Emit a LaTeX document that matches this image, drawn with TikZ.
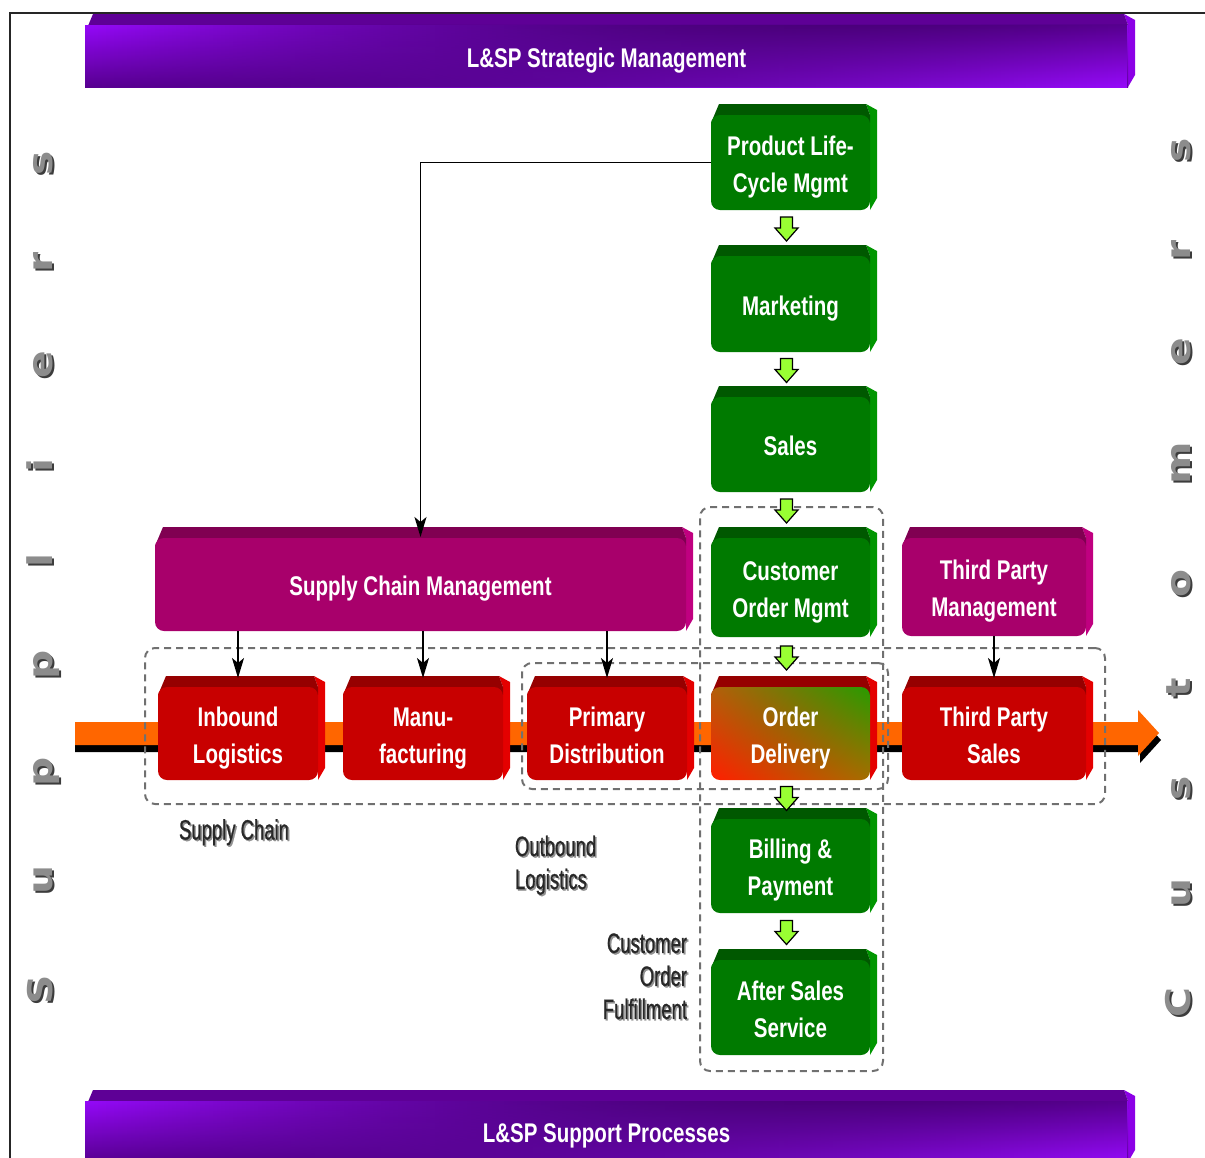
\documentclass[tikz,border=0pt]{standalone}
\usepackage{fontspec}
\usetikzlibrary{calc,arrows.meta,shadings,fadings}

\newfontfamily\boxfont[FakeStretch=0.76]{Liberation Sans}
\newfontfamily\notefont[FakeStretch=0.66, FakeBold=0.8]{Liberation Sans}
\newfontfamily\sidefont[FakeStretch=1.2]{DejaVu Sans}

\definecolor{gfront}{RGB}{0,122,0}
\definecolor{gtop}{RGB}{0,88,0}
\definecolor{gside}{RGB}{0,150,0}
\definecolor{rfront}{RGB}{200,0,0}
\definecolor{rtop}{RGB}{150,0,0}
\definecolor{rside}{RGB}{228,0,0}
\definecolor{mfront}{RGB}{168,0,107}
\definecolor{mtop}{RGB}{128,0,82}
\definecolor{mside}{RGB}{192,0,128}
\definecolor{pbright}{RGB}{150,10,250}
\definecolor{pdark}{RGB}{88,0,145}
\definecolor{ptop}{RGB}{94,0,150}
\definecolor{pside}{RGB}{140,0,230}
\definecolor{arroworange}{RGB}{255,102,0}
\definecolor{limegreen}{RGB}{153,255,51}
\definecolor{dashgray}{RGB}{112,112,112}
\definecolor{lettergray}{RGB}{140,140,140}
\definecolor{lettershade}{RGB}{60,60,60}
\definecolor{notetext}{RGB}{40,40,40}
\definecolor{noteshade}{RGB}{145,145,145}

\pgfdeclarelayer{background}
\pgfdeclarelayer{faces}
\pgfsetlayers{background,faces,main}

\tikzfading[name=fade to right, left color=transparent!100, right color=transparent!0]

% text with a drop shadow: #2 shadow colour, #3 kern, #4 raise
\newcommand\shadowed[4]{\makebox[0pt][l]{\kern#3\raisebox{#4}{\color{#2}#1}}#1}
\newcommand\nsh[1]{\shadowed{#1}{noteshade}{1.5pt}{-1.5pt}}
\newcommand\lsh[1]{\shadowed{#1}{lettershade}{-2pt}{-2pt}}
% centred lines of a box label, set a little below the box centre
\newcommand\lbl[1]{\raisebox{-4pt}[\height][\depth]{\begin{tabular}{@{}c@{}}#1\end{tabular}}}

% top and right faces of an extruded box, drawn behind its front node
\newcommand\bevel[3]{%
  \fill[#3] ($(#1.north east)+(-4,-11)$) -- ($(#1.north east)+(7,-5)$)
    -- ($(#1.south east)+(7,-12)$) -- (#1.south east) -- (#1.north east) -- cycle;
  \fill[#2] ($(#1.north west)+(0,8)$) -- ($(#1.north west)+(8,-11)$)
    -- ($(#1.north east)+(-4,-11)$) -- (#1.north east)
    -- ($(#1.north east)+(0,8)$) -- cycle;}

\tikzset{
  every node/.style={inner sep=0pt, outer sep=0pt},
  boxlabel/.style={text=white, align=center, font=\boxfont\bfseries\fontsize{27}{37}\selectfont},
  greenbox/.style={boxlabel, fill=gfront, rounded corners=9, minimum width=159},
  redbox/.style={boxlabel, fill=rfront, rounded corners=9, minimum height=93},
  magentabox/.style={boxlabel, fill=mfront, rounded corners=9},
  banner/.style={boxlabel, minimum width=1043},
  groupbox/.style={draw=dashgray, line width=2pt, dash pattern=on 7pt off 5pt, rounded corners=10},
  conn/.style={draw=black, line width=1.5pt, -{Stealth[length=20pt, width=12pt, inset=5pt]}},
  note/.style={text=notetext, font=\notefont\fontsize{28}{33}\selectfont},
  sideletter/.style={text=lettergray, font=\sidefont\bfseries\fontsize{34}{40}\selectfont, rotate=90, anchor=base},
  downarrow/.pic={\draw[fill=limegreen, line width=1.2pt, line join=miter]
    (-6,-12) -- (6,-12) -- (6,-1) -- (11.5,-1) -- (0,12) -- (-11.5,-1) -- (-6,-1) -- cycle;},
}

\begin{document}
\begin{tikzpicture}[x=1pt, y=-1pt]
\useasboundingbox (0,0) rectangle (1205,1157);
\clip (0,0) rectangle (1205,1157);

% frame
\draw[line width=2pt, black!85] (10,1170) -- (10,13) -- (1220,13);

% banners
\node[banner, minimum height=62] (strategic) at (606.5,56) {\lbl{L\&SP Strategic Management}};
\node[banner, minimum height=61] (support) at (606.5,1131.5) {\lbl{L\&SP Support Processes}};

% process boxes: green column
\node[greenbox, minimum height=95] (plm)   at (790.5,162.5) {\lbl{Product Life-\\Cycle Mgmt}};
\node[greenbox, minimum height=96] (mkt)   at (790.5,304)   {\lbl{Marketing}};
\node[greenbox, minimum height=95] (sales) at (790.5,444.5) {\lbl{Sales}};
\node[greenbox, minimum height=99] (com)   at (790.5,587.5) {\lbl{Customer\\Order Mgmt}};
\node[boxlabel, shade, rounded corners=9, minimum width=159, minimum height=93,
      upper left={rgb,255:red,180;green,95;blue,10},
      upper right={rgb,255:red,40;green,155;blue,0},
      lower left={rgb,255:red,255;green,30;blue,0},
      lower right={rgb,255:red,165;green,110;blue,0}] (od) at (790.5,733.5) {\lbl{Order\\Delivery}};
\node[greenbox, minimum height=94] (bill)  at (790.5,866)   {\lbl{Billing \&\\Payment}};
\node[greenbox, minimum height=95] (after) at (790.5,1007.5) {\lbl{After Sales\\Service}};

% process boxes: red row
\node[redbox, minimum width=160] (ib)  at (238,733.5) {\lbl{Inbound\\Logistics}};
\node[redbox, minimum width=160] (mf)  at (423,733.5) {\lbl{Manu-\\facturing}};
\node[redbox, minimum width=160] (pd)  at (607,733.5) {\lbl{Primary\\Distribution}};
\node[redbox, minimum width=184] (tps) at (994,733.5) {\lbl{Third Party\\Sales}};

% management boxes
\node[magentabox, minimum width=531, minimum height=93] (scm) at (420.5,584.5) {\lbl{Supply Chain Management}};
\node[magentabox, minimum width=184, minimum height=98] (tpm) at (994,587) {\lbl{Third Party\\Management}};

% extruded faces
\begin{pgfonlayer}{faces}
  \bevel{plm}{gtop}{gside}
  \bevel{mkt}{gtop}{gside}
  \bevel{sales}{gtop}{gside}
  \bevel{com}{gtop}{gside}
  \bevel{od}{rtop}{rside}
  \bevel{bill}{gtop}{gside}
  \bevel{after}{gtop}{gside}
  \bevel{ib}{rtop}{rside}
  \bevel{mf}{rtop}{rside}
  \bevel{pd}{rtop}{rside}
  \bevel{tps}{rtop}{rside}
  \bevel{scm}{mtop}{mside}
  \bevel{tpm}{mtop}{mside}
  \bevel{strategic}{ptop}{pside}
  \bevel{support}{ptop}{pside}
  \foreach \b in {strategic,support}{
    \fill[top color=pbright, bottom color=pdark] (\b.north west) rectangle (\b.south east);
    \fill[top color=pdark, bottom color=pbright, path fading=fade to right]
      (\b.north west) rectangle (\b.south east);
  }
\end{pgfonlayer}

% value chain arrow behind the row
\begin{pgfonlayer}{background}
  \fill[black] (75,729) -- (1140,729) -- (1140,717) -- (1161,740) -- (1140,763)
    -- (1140,752) -- (75,752) -- cycle;
  \fill[arroworange] (75,722) -- (1138,722) -- (1138,710) -- (1159,733) -- (1138,756)
    -- (1138,745) -- (75,745) -- cycle;
\end{pgfonlayer}

% dashed groupings
\node[groupbox, minimum width=960, minimum height=156] (scgroup)  at (625,726) {};
\node[groupbox, minimum width=366, minimum height=126] (olgroup)  at (705,726) {};
\node[groupbox, minimum width=183, minimum height=564] (cofgroup) at (791.5,789) {};

% connectors
\draw[conn] (plm.west) -| ($(scm.north)+(0,-1)$);
\draw[conn] (scm.south -| ib.north) -- ($(ib.north)+(0,-9)$);
\draw[conn] (scm.south -| mf.north) -- ($(mf.north)+(0,-9)$);
\draw[conn] (scm.south -| pd.north) -- ($(pd.north)+(0,-9)$);
\draw[conn] (tpm.south) -- ($(tps.north)+(0,-9)$);

\path ($(plm.south)!0.5!(mkt.north)+(-4,-4)$)   pic {downarrow};
\path ($(mkt.south)!0.5!(sales.north)+(-4,-4)$) pic {downarrow};
\path ($(sales.south)!0.5!(com.north)+(-4,-4)$) pic {downarrow};
\path ($(com.south)!0.5!(od.north)+(-4,-4)$)    pic {downarrow};
\path ($(od.south)!0.5!(bill.north)+(-4,-1)$)   pic {downarrow};
\path ($(bill.south)!0.5!(after.north)+(-4,-4)$) pic {downarrow};

% group captions
\node[note] (scnote) at (234,833) {\nsh{Supply Chain}};
\node[note, align=left, anchor=west] (olnote) at (515,866) {\nsh{Outbound}\\\nsh{Logistics}};
\node[note, align=right, anchor=east] (cofnote) at (687,977) {\nsh{Customer}\\\nsh{Order}\\\nsh{Fulfillment}};

% side captions
\foreach \ch/\yy [count=\i] in {S/990,u/880,p/772,p/665,l/560,i/465,e/365,r/262,s/163}
  \node[sideletter] (sup\i) at (52,\yy) {\lsh{\ch}};
\foreach \ch/\yy [count=\i] in {C/1003,u/893,s/788,t/688,o/583,m/463,e/352,r/250,s/150}
  \node[sideletter] (cus\i) at (1190,\yy) {\lsh{\ch}};
\end{tikzpicture}
\end{document}
